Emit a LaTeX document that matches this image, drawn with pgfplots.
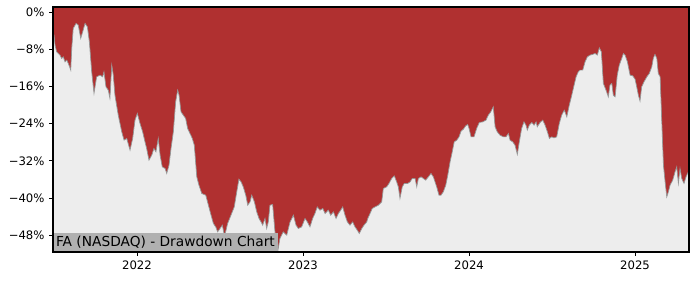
\documentclass[border=0pt]{standalone}
\usepackage{pgfplots}
\pgfplotsset{compat=1.18}
\usepackage{fontspec}
\setmainfont{DejaVu Sans}
\definecolor{ddred}{RGB}{176,48,48}
\definecolor{ddbg}{RGB}{237,237,237}
\definecolor{ddline}{RGB}{150,150,150}
\definecolor{boxgray}{RGB}{176,176,176}
\pgfplotstableread{
x y
2021.494 -4.30
2021.500 -4.95
2021.506 -7.10
2021.516 -8.54
2021.536 -9.25
2021.546 -9.96
2021.556 -9.62
2021.566 -10.70
2021.577 -10.33
2021.586 -11.04
2021.601 -12.48
2021.607 -7.81
2021.616 -3.51
2021.633 -2.43
2021.646 -2.80
2021.661 -5.66
2021.673 -4.24
2021.687 -2.43
2021.701 -3.16
2021.713 -6.39
2021.727 -12.85
2021.741 -17.50
2021.757 -13.92
2021.777 -13.56
2021.793 -13.92
2021.801 -12.85
2021.813 -16.08
2021.827 -16.79
2021.837 -18.57
2021.848 -11.41
2021.857 -13.56
2021.867 -17.86
2021.887 -22.17
2021.908 -25.76
2021.922 -27.55
2021.938 -27.18
2021.958 -29.70
2021.974 -27.18
2021.988 -23.24
2022.002 -21.80
2022.018 -23.95
2022.034 -25.76
2022.048 -27.91
2022.058 -29.33
2022.072 -31.85
2022.089 -30.77
2022.102 -29.33
2022.114 -30.06
2022.128 -27.18
2022.139 -30.77
2022.152 -33.29
2022.169 -33.64
2022.179 -34.71
2022.193 -32.93
2022.205 -29.33
2022.219 -25.76
2022.233 -19.30
2022.245 -16.79
2022.253 -17.86
2022.265 -21.46
2022.279 -22.17
2022.293 -22.88
2022.305 -25.03
2022.319 -26.10
2022.333 -27.18
2022.345 -28.62
2022.360 -35.44
2022.373 -37.23
2022.390 -39.02
2022.414 -39.38
2022.430 -41.53
2022.446 -43.69
2022.460 -45.47
2022.474 -46.20
2022.486 -47.28
2022.500 -46.55
2022.514 -45.84
2022.526 -47.99
2022.534 -47.28
2022.546 -45.47
2022.566 -43.69
2022.586 -41.90
2022.601 -38.67
2022.614 -35.94
2022.627 -36.52
2022.640 -37.59
2022.655 -39.38
2022.667 -41.53
2022.681 -40.82
2022.691 -39.38
2022.707 -40.82
2022.721 -42.97
2022.735 -44.40
2022.747 -45.13
2022.757 -45.84
2022.771 -44.40
2022.781 -46.55
2022.791 -45.13
2022.801 -41.53
2022.817 -41.38
2022.831 -47.28
2022.849 -51.22
2022.861 -48.70
2022.881 -47.28
2022.902 -47.99
2022.922 -45.13
2022.942 -43.69
2022.958 -45.84
2022.972 -46.55
2022.992 -46.20
2023.012 -44.40
2023.026 -45.13
2023.042 -46.20
2023.058 -44.40
2023.072 -43.32
2023.086 -41.90
2023.102 -42.61
2023.119 -42.24
2023.133 -43.32
2023.152 -42.61
2023.167 -43.69
2023.183 -42.97
2023.199 -44.40
2023.213 -43.32
2023.227 -42.61
2023.239 -41.90
2023.253 -43.69
2023.267 -45.13
2023.283 -45.84
2023.299 -45.13
2023.313 -46.20
2023.327 -46.91
2023.339 -47.62
2023.354 -46.55
2023.367 -45.84
2023.384 -45.13
2023.390 -44.40
2023.404 -43.32
2023.417 -42.24
2023.434 -41.90
2023.454 -41.53
2023.474 -40.82
2023.484 -37.94
2023.504 -37.59
2023.518 -36.86
2023.534 -35.79
2023.550 -35.23
2023.564 -36.52
2023.574 -37.59
2023.584 -40.09
2023.598 -37.59
2023.610 -36.86
2023.631 -36.86
2023.645 -36.52
2023.658 -35.79
2023.675 -35.79
2023.685 -37.59
2023.695 -35.79
2023.711 -35.44
2023.725 -35.79
2023.739 -36.15
2023.755 -35.44
2023.771 -34.71
2023.785 -35.44
2023.795 -36.52
2023.805 -37.59
2023.819 -39.38
2023.831 -39.38
2023.845 -38.67
2023.860 -37.23
2023.872 -35.08
2023.886 -32.22
2023.899 -30.06
2023.911 -27.91
2023.926 -27.55
2023.940 -26.84
2023.952 -25.61
2023.966 -25.18
2023.980 -24.47
2023.992 -24.17
2024.000 -25.03
2024.012 -26.84
2024.030 -26.84
2024.046 -25.03
2024.062 -23.74
2024.083 -23.61
2024.102 -23.24
2024.116 -22.17
2024.131 -21.46
2024.146 -20.38
2024.157 -24.68
2024.170 -25.76
2024.187 -26.47
2024.207 -26.84
2024.223 -26.84
2024.237 -26.10
2024.247 -27.55
2024.263 -27.91
2024.277 -28.62
2024.291 -30.62
2024.303 -27.91
2024.317 -25.03
2024.331 -23.61
2024.343 -24.32
2024.351 -25.39
2024.363 -24.32
2024.378 -23.74
2024.392 -24.32
2024.404 -23.61
2024.411 -24.68
2024.428 -23.74
2024.444 -23.24
2024.458 -24.32
2024.472 -25.76
2024.484 -27.18
2024.498 -26.84
2024.512 -27.05
2024.528 -26.84
2024.544 -23.95
2024.558 -22.17
2024.574 -21.09
2024.589 -22.53
2024.604 -20.01
2024.619 -17.86
2024.633 -15.71
2024.645 -13.92
2024.658 -12.85
2024.669 -12.48
2024.685 -12.48
2024.699 -10.70
2024.713 -9.62
2024.729 -9.25
2024.745 -9.10
2024.759 -8.89
2024.773 -9.25
2024.785 -7.68
2024.797 -8.54
2024.809 -15.34
2024.825 -16.79
2024.839 -18.23
2024.849 -15.71
2024.860 -15.34
2024.869 -17.86
2024.880 -18.23
2024.893 -13.56
2024.905 -11.41
2024.920 -9.96
2024.930 -8.89
2024.940 -9.25
2024.954 -10.70
2024.970 -13.56
2024.986 -13.71
2025.000 -14.42
2025.010 -16.08
2025.020 -17.86
2025.030 -19.15
2025.040 -16.08
2025.054 -15.00
2025.071 -13.92
2025.086 -13.19
2025.101 -11.77
2025.110 -9.96
2025.120 -9.10
2025.131 -9.96
2025.140 -13.19
2025.151 -13.92
2025.161 -23.61
2025.171 -32.93
2025.181 -36.52
2025.191 -39.75
2025.201 -38.67
2025.211 -37.23
2025.227 -36.15
2025.241 -34.37
2025.251 -33.29
2025.261 -36.86
2025.271 -33.64
2025.281 -35.79
2025.295 -36.86
2025.307 -35.44
2025.321 -34.37
2025.325 -33.64
}\dd
\begin{document}
\begin{tikzpicture}
\begin{axis}[
  name=ax,
  scale only axis,
  width=457.92pt, height=176.4pt,
  xmin=2021.494, xmax=2025.325,
  ymin=-51.6, ymax=1.1,
  axis background/.style={fill=ddred},
  axis line style={line width=0.8pt},
  axis on top,
  xtick={2022,2023,2024,2025},
  xticklabels={2022,2023,2024,2025},
  ytick={-48,-40,-32,-24,-16,-8,0},
  yticklabels={−48\%,−40\%,−32\%,−24\%,−16\%,−8\%,0\%},
  tick align=outside,
  xtick pos=bottom, ytick pos=left,
  major tick length=2.6pt,
  tick style={line width=0.6pt, black},
  ticklabel style={font=\fontsize{8.4}{10}\selectfont},
  clip=true,
]
% light area below the drawdown curve (axis background is the red drawdown fill)
\addplot[fill=ddbg, draw=ddline, line width=0.5pt] table[x=x,y=y] {\dd} |- (axis cs:2021.494,-60) -- cycle;
\node[anchor=south west, fill=boxgray, inner xsep=2pt, inner ysep=2.5pt,
      font=\fontsize{9.9}{11}\selectfont] at (rel axis cs:0,0) {FA (NASDAQ) - Drawdown Chart};
\end{axis}
\pgfresetboundingbox
\path ([shift={(-38.16pt,-20.16pt)}]ax.south west) rectangle ([shift={(7.92pt,5.04pt)}]ax.north east);
\end{tikzpicture}
\end{document}
